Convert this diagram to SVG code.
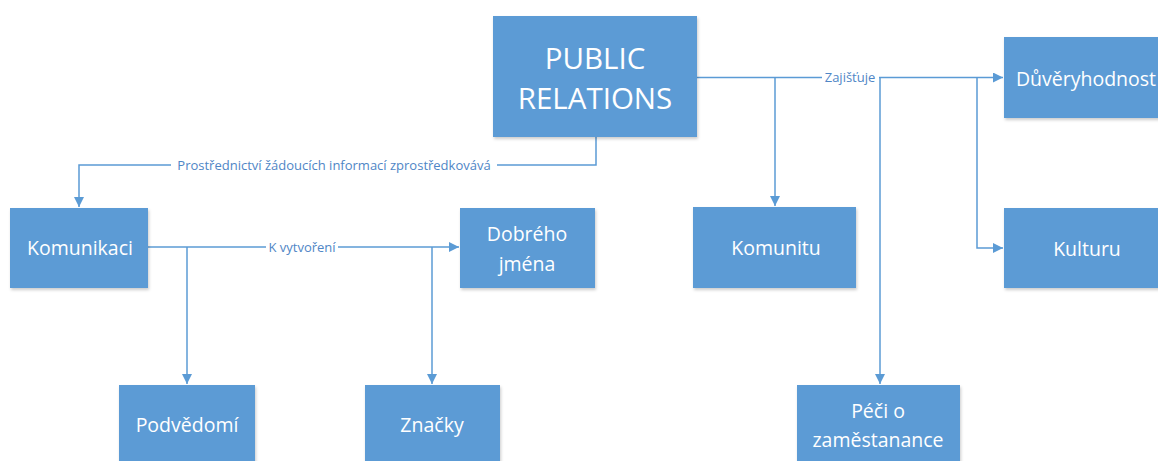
<svg xmlns="http://www.w3.org/2000/svg" width="1158" height="461" viewBox="0 0 1158 461">
<defs>
<style>
.box{fill:#5B9BD5;filter:url(#sh)}
.t{fill:#fff;font-family:"Open Sans","Noto Sans",sans-serif;font-size:19.5px;text-anchor:middle;dominant-baseline:central}
.big{font-size:29.5px}
.c{fill:none;stroke:#5B9BD5;stroke-width:1.5}
.a{marker-end:url(#arr)}
.lb{fill:#4F86C6;font-family:"Open Sans","Noto Sans",sans-serif;font-size:13px;text-anchor:middle;dominant-baseline:central}
.bg{fill:#fff}
</style>
<filter id="sh" x="-10%" y="-10%" width="120%" height="130%">
<feDropShadow dx="1" dy="2" stdDeviation="1.5" flood-color="#000" flood-opacity="0.2"/>
</filter>
<marker id="arr" markerUnits="userSpaceOnUse" markerWidth="11" markerHeight="11" refX="10" refY="5" orient="auto">
<path d="M0,0 L10,5 L0,10 z" fill="#5B9BD5"/>
</marker>
</defs>
<rect width="1158" height="461" fill="#fff"/>
<g id="connectors">
<path class="c a" d="M596,137 V165 H79 V207"/>
<path class="c a" d="M697,77.5 H1003"/>
<path class="c a" d="M775,77.5 V206"/>
<path class="c a" d="M880,77.5 V384"/>
<path class="c a" d="M977,77.5 V248 H1003"/>
<path class="c a" d="M148,247 H459"/>
<path class="c a" d="M187,247 V384"/>
<path class="c a" d="M432,247 V384"/>
<rect class="bg" x="171" y="157" width="326" height="16"/>
<text class="lb" x="334" y="165">Prostřednictví žádoucích informací zprostředkovává</text>
<rect class="bg" x="822" y="70" width="57" height="15"/>
<text class="lb" x="850" y="77">Zajišťuje</text>
<rect class="bg" x="266" y="239" width="72" height="16"/>
<text class="lb" x="302" y="247">K vytvoření</text>
</g>
<g id="pr"><rect class="box" x="493" y="16" width="204" height="121"/><text class="t big" x="595" y="57">PUBLIC</text><text class="t big" x="595" y="97">RELATIONS</text></g>
<g id="duveryhodnost"><rect class="box" x="1004" y="37" width="160" height="81"/><text class="t" x="1086" y="78">Důvěryhodnost</text></g>
<g id="kulturu"><rect class="box" x="1004" y="208" width="160" height="80"/><text class="t" x="1087" y="248">Kulturu</text></g>
<g id="komunitu"><rect class="box" x="693" y="207" width="163" height="81"/><text class="t" x="776" y="247">Komunitu</text></g>
<g id="komunikaci"><rect class="box" x="10" y="208" width="138" height="80"/><text class="t" x="80" y="247">Komunikaci</text></g>
<g id="dobreho"><rect class="box" x="460" y="208" width="135" height="80"/><text class="t" x="527" y="233">Dobrého</text><text class="t" x="527" y="263">jména</text></g>
<g id="podvedomi"><rect class="box" x="119" y="385" width="136" height="90"/><text class="t" x="187" y="424">Podvědomí</text></g>
<g id="znacky"><rect class="box" x="365" y="385" width="135" height="90"/><text class="t" x="432" y="424">Značky</text></g>
<g id="peci"><rect class="box" x="797" y="385" width="163" height="90"/><text class="t" x="878" y="410">Péči o</text><text class="t" x="878" y="439">zaměstanance</text></g>
</svg>
